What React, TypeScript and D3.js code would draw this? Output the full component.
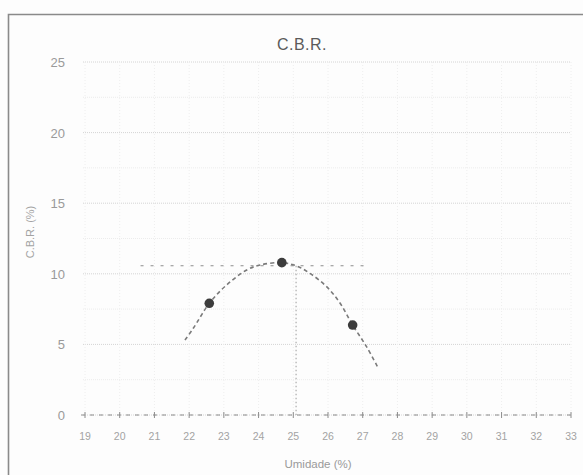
import { useEffect, useRef } from 'react';
import * as d3 from 'd3';

// Ensaio C.B.R.
const umidade = [22.58, 24.67, 26.71];
const cbr = [7.91, 10.79, 6.37];

// Curva ajustada (pontos lidos ao longo da linha tracejada)
const curvaUmidade = [21.88, 22.12, 22.58, 23.08, 23.66, 24.04, 24.67, 25.1, 25.48, 25.96, 26.35, 26.71, 27.11, 27.45];
const curvaCbr = [5.31, 6.14, 7.91, 9.21, 10.27, 10.62, 10.79, 10.55, 10.03, 9.09, 7.91, 6.37, 4.84, 3.31];

// Linhas de referência (CBR máximo e umidade ótima)
const cbrMaximo = 10.57;
const faixaMaximo = [20.6, 27.2];
const umidadeOtima = 25.08;

const xTicks = d3.range(19, 34);
const yTicks = [0, 5, 10, 15, 20, 25];

const W = 583;
const H = 475;

export default function App() {
  const svgRef = useRef<SVGSVGElement>(null);

  useEffect(() => {
    if (!svgRef.current) return;
    const svg = d3.select(svgRef.current);
    svg.selectAll('*').remove();

    const x = d3.scaleLinear().domain([19, 33]).range([85, 571]);
    const y = d3.scaleLinear().domain([0, 25]).range([415, 62]);

    svg.append('rect').attr('width', W).attr('height', H).attr('fill', '#fdfdfd');

    // moldura
    svg.append('path')
      .attr('d', `M8.5,${H} L8.5,14.5 L${W},14.5`)
      .attr('fill', 'none')
      .attr('stroke', '#8a8a8a')
      .attr('stroke-width', 1.6);

    // grade (bem clara, como no papel digitalizado)
    const grid = svg.append('g');
    d3.range(0, 25.01, 2.5).forEach((v) => {
      grid.append('line')
        .attr('x1', x(19) - 2).attr('x2', x(33))
        .attr('y1', y(v)).attr('y2', y(v))
        .attr('stroke', v % 5 === 0 ? '#d4d4d4' : '#ececec')
        .attr('stroke-width', 1)
        .attr('stroke-dasharray', '1,1');
    });
    xTicks.forEach((v) => {
      grid.append('line')
        .attr('x1', x(v)).attr('x2', x(v))
        .attr('y1', y(25)).attr('y2', y(0))
        .attr('stroke', '#eeeeee')
        .attr('stroke-width', 1)
        .attr('stroke-dasharray', '1,2');
    });

    // eixo x tracejado em y = 0
    svg.append('line')
      .attr('x1', x(19) - 4).attr('x2', x(33) + 2)
      .attr('y1', y(0)).attr('y2', y(0))
      .attr('stroke', '#8c8c8c')
      .attr('stroke-width', 1)
      .attr('stroke-dasharray', '4,5');
    xTicks.forEach((v) => {
      svg.append('line')
        .attr('x1', x(v)).attr('x2', x(v))
        .attr('y1', y(0) - 3).attr('y2', y(0) + 3)
        .attr('stroke', '#8c8c8c')
        .attr('stroke-width', 1);
    });

    // rótulos
    svg.append('g').selectAll('text').data(yTicks).join('text')
      .attr('x', 65).attr('y', (d) => y(d) + 5)
      .attr('text-anchor', 'end')
      .attr('font-family', 'Liberation Sans, Arial, sans-serif')
      .attr('font-size', 13)
      .attr('fill', '#9a9a9a')
      .text((d) => d);

    svg.append('g').selectAll('text').data(xTicks).join('text')
      .attr('x', (d) => x(d)).attr('y', 440)
      .attr('text-anchor', 'middle')
      .attr('font-family', 'Liberation Sans, Arial, sans-serif')
      .attr('font-size', 10.5)
      .attr('fill', '#a3a3a3')
      .text((d) => d);

    svg.append('text')
      .attr('x', 302).attr('y', 50)
      .attr('text-anchor', 'middle')
      .attr('font-family', 'Liberation Sans, Arial, sans-serif')
      .attr('font-size', 16)
      .attr('letter-spacing', 0.5)
      .attr('fill', '#5a5a5a')
      .text('C.B.R.');

    svg.append('text')
      .attr('x', 318).attr('y', 468)
      .attr('text-anchor', 'middle')
      .attr('font-family', 'Liberation Sans, Arial, sans-serif')
      .attr('font-size', 11.5)
      .attr('fill', '#9a9a9a')
      .text('Umidade (%)');

    svg.append('text')
      .attr('transform', 'translate(34, 232) rotate(-90)')
      .attr('text-anchor', 'middle')
      .attr('font-family', 'Liberation Sans, Arial, sans-serif')
      .attr('font-size', 11)
      .attr('fill', '#a3a3a3')
      .text('C.B.R. (%)');

    // linhas de referência
    svg.append('line')
      .attr('x1', x(faixaMaximo[0])).attr('x2', x(faixaMaximo[1]))
      .attr('y1', y(cbrMaximo)).attr('y2', y(cbrMaximo))
      .attr('stroke', '#8c8c8c')
      .attr('stroke-width', 1.2)
      .attr('stroke-dasharray', '3,7');
    svg.append('line')
      .attr('x1', x(umidadeOtima)).attr('x2', x(umidadeOtima))
      .attr('y1', y(cbrMaximo)).attr('y2', y(0))
      .attr('stroke', '#9a9a9a')
      .attr('stroke-width', 1)
      .attr('stroke-dasharray', '1.5,2.5');

    // curva ajustada
    const curva = curvaUmidade.map((u, i) => [u, curvaCbr[i]] as [number, number]);
    const line = d3.line<[number, number]>()
      .x((d) => x(d[0]))
      .y((d) => y(d[1]))
      .curve(d3.curveCatmullRom);
    svg.append('path')
      .attr('d', line(curva))
      .attr('fill', 'none')
      .attr('stroke', '#7a7a7a')
      .attr('stroke-width', 1.6)
      .attr('stroke-dasharray', '4,3');

    // pontos
    svg.append('g').selectAll('circle').data(umidade).join('circle')
      .attr('cx', (d) => x(d))
      .attr('cy', (_, i) => y(cbr[i]))
      .attr('r', 4.8)
      .attr('fill', '#3c3c3c');
  }, []);

  return (
    <svg
      ref={svgRef}
      width={W}
      height={H}
      style={{ position: 'absolute', left: 0, top: 0, display: 'block' }}
    />
  );
}
